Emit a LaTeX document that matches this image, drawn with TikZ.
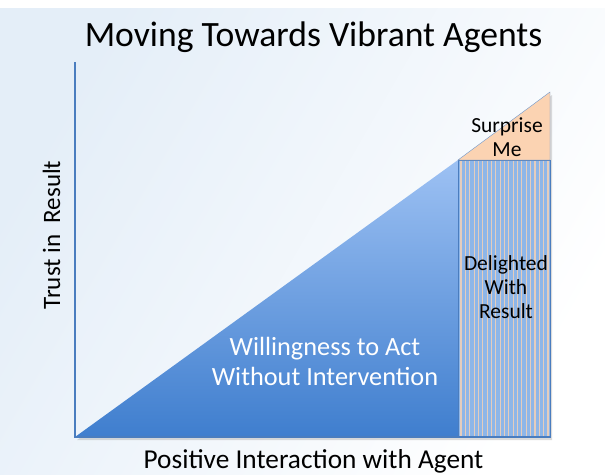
\documentclass[tikz,border=0pt]{standalone}
\usepackage{fontspec}
\setmainfont{Carlito}
\definecolor{triTop}{HTML}{9DC1F3}
\definecolor{triBot}{HTML}{3F7ECE}
\definecolor{peach}{HTML}{FBD3B2}
\definecolor{stripeBlue}{HTML}{8EB6E8}
\definecolor{edgeBlue}{HTML}{4A7DBF}
\definecolor{bgBlue}{HTML}{E4EEF8}

\begin{document}
\begin{tikzpicture}[x=1pt,y=-1pt,
  labeltext/.style={font=\fontsize{27.3}{30}\selectfont, inner sep=0pt, anchor=base},
  boxtext/.style={font=\fontsize{21.5}{23.5}\selectfont, align=center, inner sep=0pt, anchor=base}]
	% background
	\useasboundingbox (0,0) rectangle (605,474);
	\fill[white] (0,0) rectangle (605,474);
	\shade[left color=bgBlue, right color=white, shading angle=60] (0,8) rectangle (605,474);
	% define coordinates
	\coordinate (O) at (75,437);
	\coordinate (Y) at (75,62);
	\coordinate (P) at (458,160);
	\coordinate (Q) at (458,437);
	\coordinate (R) at (550,160);
	\coordinate (S) at (550,437);
	\coordinate (T) at (550,92);
	% shadow
	\fill[black!40, opacity=.35] ([shift={(2,3)}]O) -- ([shift={(2,3)}]P) -- ([shift={(2,3)}]T) -- ([shift={(2,3)}]S) -- cycle;
	% willingness triangle
	\shade[top color=triTop, bottom color=triBot] (O) -- (P) -- (Q) -- cycle;
	% delighted bar
	\fill[stripeBlue] (P) rectangle (S);
	\foreach \x in {461,465.35,...,549} \draw[peach!80!stripeBlue, line width=1.1pt] (\x,160) -- (\x,437);
	\draw[edgeBlue] (P) rectangle (S);
	% surprise triangle
	\fill[peach] (P) -- (T) -- (R) -- cycle;
	\draw[edgeBlue!80] (P) -- (T) -- (R) -- cycle;
	% axis
	\draw[edgeBlue, line width=1.3pt] (Y) -- (O) -- (S);
	% labels
	\node[anchor=base, inner sep=0pt] (title) at (313.5,46) {\fontsize{35.6}{40}\selectfont Moving Towards Vibrant Agents};
	\node[labeltext, rotate=90, font=\fontsize{25}{30}\selectfont] (ylabel) at (60,235) {Trust in\ \ Result};
	\node[labeltext] (xlabel) at (313.5,468) {Positive Interaction with Agent};
	\node[labeltext, white, align=center, font=\fontsize{26.3}{30}\selectfont] (willing) at (325,385) {Willingness to Act\\Without Intervention};
	\node[boxtext] (surprise) at (507,156) {Surprise\\Me};
	\node[boxtext, font=\fontsize{21.5}{24}\selectfont] (delight) at (506,318) {Delighted\\With\\Result};
\end{tikzpicture}
\end{document}
